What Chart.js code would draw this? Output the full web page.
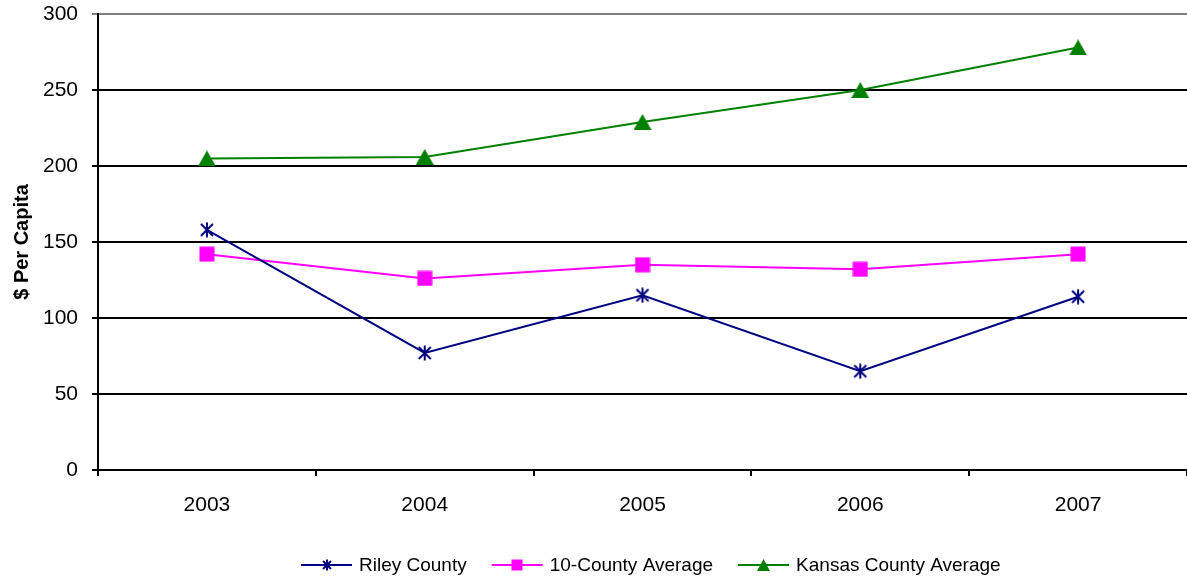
<!DOCTYPE html>
<html>
<head>
<meta charset="utf-8">
<script src="https://cdn.jsdelivr.net/npm/chart.js@4/dist/chart.umd.min.js"></script>
<style>
  html, body { margin: 0; padding: 0; background: #fff; }
  #wrap { width: 1187px; height: 583px; }
</style>
</head>
<body>
<div id="wrap"><canvas id="c" width="1187" height="583"></canvas></div>
<script>
// Per-capita spending by year
const years = ['2003', '2004', '2005', '2006', '2007'];
const rileyCounty = [158, 77, 115, 65, 114];
const tenCountyAverage = [142, 126, 135, 132, 142];
const kansasCountyAverage = [205, 206, 229, 250, 278];
const yTicks = [0, 50, 100, 150, 200, 250, 300];

const NAVY = '#000080', MAGENTA = '#FF00FF', GREEN = '#008000';
const FONT = '"Liberation Sans", Arial, sans-serif';

// Marker images
function makeCanvas(w, h, draw) {
  const c = document.createElement('canvas');
  c.width = w; c.height = h;
  draw(c.getContext('2d'), w, h);
  return c;
}
const star = (s) => makeCanvas(s, s, (g) => {
  g.strokeStyle = NAVY; g.lineWidth = 2;
  g.beginPath();
  g.moveTo(2, 2); g.lineTo(s - 2, s - 2);
  g.moveTo(s - 2, 2); g.lineTo(2, s - 2);
  g.moveTo(s / 2, 0.5); g.lineTo(s / 2, s - 0.5);
  g.stroke();
});
const square = (s) => makeCanvas(s, s, (g) => {
  g.fillStyle = MAGENTA; g.fillRect(0.5, 0.5, s - 1, s - 1);
});
const triangle = (w, h) => makeCanvas(w, h, (g) => {
  g.fillStyle = GREEN;
  g.beginPath(); g.moveTo(w / 2, 0); g.lineTo(w, h); g.lineTo(0, h); g.closePath(); g.fill();
});

// Legend drawn below the plot: line with a marker, then the label
const lineLegend = {
  id: 'lineLegend',
  afterDraw(chart) {
    const ctx = chart.ctx;
    ctx.save();
    ctx.font = '19px ' + FONT;
    const lineW = 51, gapText = 7, gapItem = 25;
    const items = chart.data.datasets.map(ds => ({
      label: ds.label, color: ds.borderColor, marker: ds.legendMarker,
      textW: ctx.measureText(ds.label).width
    }));
    items.forEach(it => { it.w = lineW + gapText + it.textW; });
    const total = items.reduce((s, it) => s + it.w, 0) + gapItem * (items.length - 1);
    const area = chart.chartArea;
    let x = Math.round((area.left + area.right) / 2 - total / 2 + 8);
    const y = 565;
    items.forEach(it => {
      ctx.strokeStyle = it.color; ctx.lineWidth = 2;
      ctx.beginPath(); ctx.moveTo(x, y); ctx.lineTo(x + lineW, y); ctx.stroke();
      const m = it.marker;
      ctx.drawImage(m, Math.round(x + lineW / 2 - m.width / 2), Math.round(y - m.height / 2));
      ctx.fillStyle = '#000'; ctx.textBaseline = 'middle'; ctx.textAlign = 'left';
      ctx.fillText(it.label, x + lineW + gapText, y + 1);
      x += it.w + gapItem;
    });
    ctx.restore();
  }
};

const lineDataset = (label, data, color, marker, legendMarker) => ({
  label, data, legendMarker,
  borderColor: color, backgroundColor: color,
  borderWidth: 2,
  pointStyle: marker, pointRadius: 8,
  tension: 0, fill: false
});

new Chart(document.getElementById('c'), {
  type: 'line',
  data: {
    labels: years,
    datasets: [
      lineDataset('Riley County', rileyCounty, NAVY, star(16), star(12)),
      lineDataset('10-County Average', tenCountyAverage, MAGENTA, square(16), square(12)),
      lineDataset('Kansas County Average', kansasCountyAverage, GREEN, triangle(18, 16), triangle(13, 12))
    ]
  },
  options: {
    responsive: false,
    animation: false,
    events: [],
    layout: { autoPadding: false, padding: { top: 14, right: -2, bottom: 53, left: 0 } },
    plugins: { legend: { display: false }, tooltip: { enabled: false } },
    scales: {
      x: {
        offset: true,
        grid: { offset: true, drawOnChartArea: false, drawTicks: true, tickLength: 6, color: '#000', lineWidth: 2 },
        border: { display: true, color: '#000', width: 2 },
        ticks: { color: '#000', font: { family: FONT, size: 21 }, padding: 17, maxRotation: 0 },
        afterFit(scale) { scale.height = 60; scale.paddingLeft = 0; scale.paddingRight = 0; }
      },
      y: {
        min: 0, max: 300,
        afterBuildTicks(scale) { scale.ticks = yTicks.map(v => ({ value: v })); },
        grid: {
          color: (c) => (c.tick && c.tick.value === 300) ? '#808080' : '#000',
          lineWidth: 2, tickLength: 6, drawTicks: true
        },
        border: { display: true, color: '#000', width: 2 },
        ticks: { color: '#000', font: { family: FONT, size: 21 }, padding: 14 },
        title: {
          display: true, text: '$ Per Capita', color: '#000',
          font: { family: FONT, size: 20, weight: 'bold' },
          padding: { top: 10, bottom: 0 }
        },
        afterFit(scale) { scale.width = 98; scale.paddingTop = 0; scale.paddingBottom = 0; }
      }
    }
  },
  plugins: [lineLegend]
});
</script>
</body>
</html>
